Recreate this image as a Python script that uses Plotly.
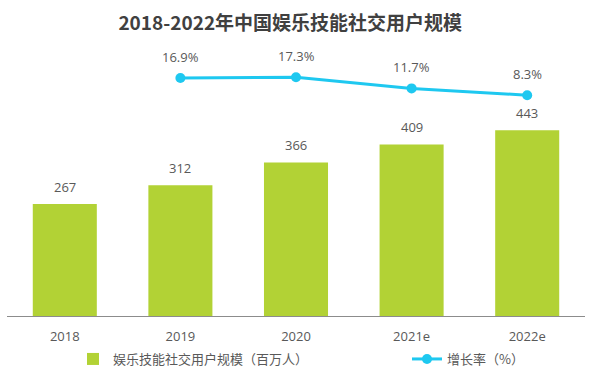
import plotly.graph_objects as go

categories = ["2018", "2019", "2020", "2021e", "2022e"]
users = [267, 312, 366, 409, 443]
growth_cats = ["2019", "2020", "2021e", "2022e"]
growth = [16.9, 17.3, 11.7, 8.3]
growth_labels = ["16.9%", "17.3%", "11.7%", "8.3%"]

GREEN = "#b2d235"
CYAN = "#1ec8f0"
TXT = "#595959"
FONT = "Open Sans, Noto Sans CJK SC, sans-serif"
CJK = "Noto Sans CJK SC, sans-serif"

H, T, B = 374, 40, 0
paper_h = H - T - B
dom0 = (H - B - 316) / paper_h
leg_y = (H - B - 359) / paper_h

fig = go.Figure()
fig.add_trace(go.Bar(
    x=categories, y=users, name="娱乐技能社交用户规模（百万人）",
    marker=dict(color=GREEN, line=dict(width=0)),
    width=0.554, legend="legend",
))
fig.add_trace(go.Scatter(
    x=growth_cats, y=growth, name="增长率（%）", yaxis="y2",
    mode="lines+markers",
    line=dict(color=CYAN, width=3),
    marker=dict(size=10, color=CYAN),
    cliponaxis=False, legend="legend2",
))
for i, v in enumerate(users):
    fig.add_annotation(x=i, y=v, yref="y", text=str(v), showarrow=False,
                       yshift=17, font=dict(size=13, color=TXT, family=FONT))
for c, v, t in zip(growth_cats, growth, growth_labels):
    fig.add_annotation(x=categories.index(c), y=v, yref="y2", text=t, showarrow=False,
                       yshift=21, font=dict(size=13, color=TXT, family=FONT))

fig.update_layout(
    width=606, height=H,
    margin=dict(l=7, r=21, t=T, b=B),
    paper_bgcolor="white", plot_bgcolor="white",
    title=dict(text="<b>2018-2022年中国娱乐技能社交用户规模</b>", x=0.479, xanchor="center",
               y=0.9385, yanchor="middle",
               font=dict(size=19, color="#404040", family=CJK)),
    xaxis=dict(type="category", categoryorder="array", categoryarray=categories,
               range=[-0.5, 4.5], automargin=False,
               showline=True, linecolor="#8c8c8c", linewidth=1, ticks="",
               tickfont=dict(size=13, color=TXT, family=FONT), ticklabelstandoff=8,
               showgrid=False),
    yaxis=dict(range=[0, 658], domain=[dom0, 1], visible=False, showgrid=False),
    yaxis2=dict(range=[-102.1, 35.9], domain=[dom0, 1], overlaying="y",
                visible=False, showgrid=False),
    showlegend=True,
    legend=dict(orientation="h", x=(73 - 7) / 578, xanchor="left",
                y=leg_y, yanchor="middle",
                font=dict(size=13, color=TXT, family=CJK), bgcolor="rgba(0,0,0,0)"),
    legend2=dict(orientation="h", x=(407 - 7) / 578, xanchor="left",
                 y=leg_y, yanchor="middle",
                 font=dict(size=13, color=TXT, family=CJK), bgcolor="rgba(0,0,0,0)"),
)
fig.write_html("out.html", config={"displayModeBar": False},
               post_script="document.body.style.margin='0';document.body.style.overflow='hidden';")
